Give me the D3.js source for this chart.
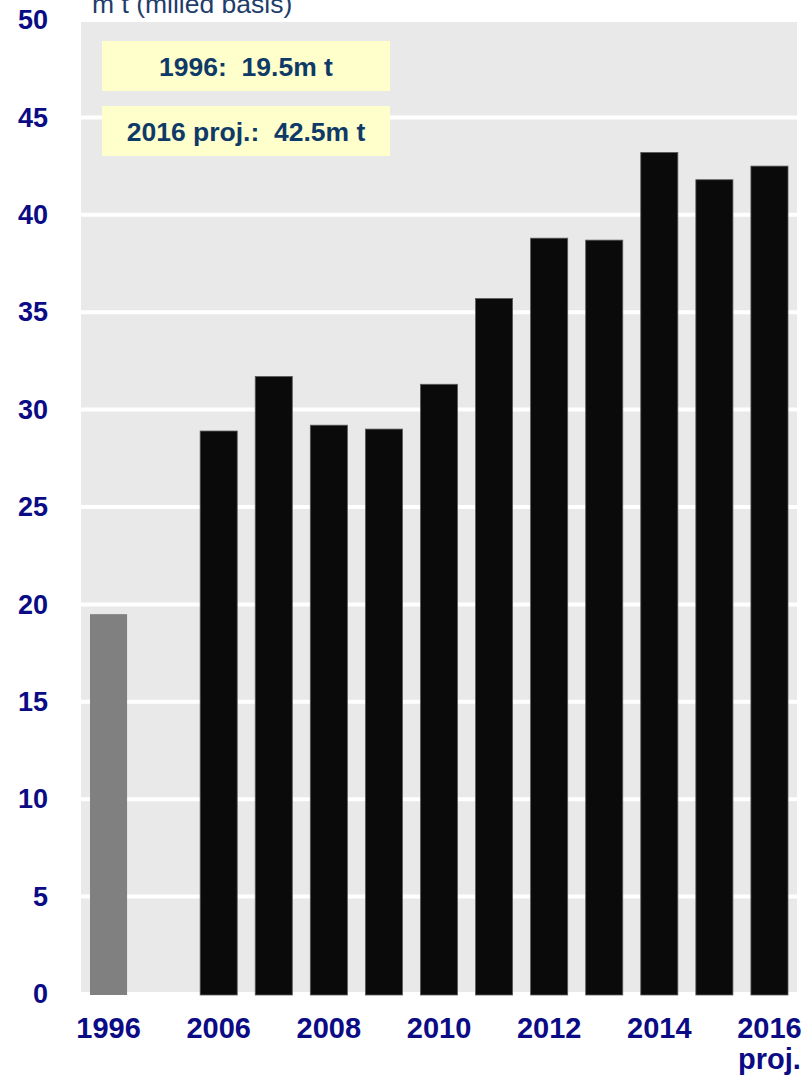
<!DOCTYPE html>
<html>
<head>
<meta charset="utf-8">
<script src="https://cdn.jsdelivr.net/npm/d3@7/dist/d3.min.js"></script>
<style>
  html, body { margin: 0; padding: 0; background: #ffffff; }
  svg { display: block; }
  text { font-family: "Liberation Sans", Arial, sans-serif; white-space: pre; }
</style>
</head>
<body>
<svg id="chart" width="804" height="1076"></svg>
<script>
// Production, million tonnes (milled basis)
const slots = ["1996", "gap", "2006", "2007", "2008", "2009", "2010", "2011", "2012", "2013", "2014", "2015", "2016"];
const years = ["1996", "2006", "2007", "2008", "2009", "2010", "2011", "2012", "2013", "2014", "2015", "2016"];
const values = [19.5, 28.9, 31.7, 29.2, 29.0, 31.3, 35.7, 38.8, 38.7, 43.2, 41.8, 42.5];
const xTickYears = ["1996", "2006", "2008", "2010", "2012", "2014", "2016"];
const yTicks = [0, 5, 10, 15, 20, 25, 30, 35, 40, 45, 50];
const unitLabel = "m t (milled basis)";
const notes = ["1996:  19.5m t", "2016 proj.:  42.5m t"];
const projYear = "2016";
const projSuffix = "proj.";

const svg = d3.select("#chart");
const plot = { left: 81, right: 797, top: 20, bottom: 994 };

const x = d3.scaleBand()
  .domain(slots)
  .range([plot.left, plot.right])
  .paddingInner(0.327)
  .paddingOuter(0.1635);

const y = d3.scaleLinear()
  .domain([0, 50])
  .range([plot.bottom, plot.top]);

// plot background
svg.append("rect")
  .attr("x", plot.left)
  .attr("y", y(50))
  .attr("width", plot.right - plot.left)
  .attr("height", y(0) - y(50))
  .attr("fill", "#e9e9e9");

// horizontal grid lines
svg.append("g")
  .selectAll("line")
  .data(yTicks)
  .join("line")
  .attr("x1", plot.left)
  .attr("x2", plot.right)
  .attr("y1", d => y(d))
  .attr("y2", d => y(d))
  .attr("stroke", "#ffffff")
  .attr("stroke-width", 4);

// bars
const rows = years.map((yr, i) => ({ year: yr, value: values[i] }));
svg.append("g")
  .selectAll("rect")
  .data(rows)
  .join("rect")
  .attr("x", d => x(d.year))
  .attr("y", d => y(d.value))
  .attr("width", x.bandwidth())
  .attr("height", d => y(0) - y(d.value) + 1)
  .attr("fill", d => d.year === "1996" ? "#808080" : "#0a0a0a")
  .attr("stroke", d => d.year === "1996" ? "none" : "#5a5a5a")
  .attr("stroke-width", 0.8);

// y axis
const yAxis = svg.append("g")
  .attr("transform", `translate(48,0)`)
  .call(d3.axisLeft(y).tickValues(yTicks).tickSize(0).tickPadding(0));
yAxis.select(".domain").remove();
yAxis.selectAll("text")
  .attr("fill", "#0b0b85")
  .attr("font-size", 27)
  .attr("font-weight", "bold")
  .attr("font-family", "'Liberation Sans', Arial, sans-serif");

// x axis
const xAxis = svg.append("g")
  .attr("transform", `translate(0,${plot.bottom})`)
  .call(d3.axisBottom(x).tickValues(xTickYears).tickSize(0).tickPadding(0));
xAxis.select(".domain").remove();
xAxis.selectAll("text")
  .attr("fill", "#0b0b85")
  .attr("font-size", 29)
  .attr("font-weight", "bold")
  .attr("font-family", "'Liberation Sans', Arial, sans-serif")
  .attr("dy", null)
  .attr("y", 44);
xAxis.selectAll(".tick")
  .filter(d => d === projYear)
  .append("text")
  .attr("fill", "#0b0b85")
  .attr("font-size", 29)
  .attr("font-weight", "bold")
  .attr("font-family", "'Liberation Sans', Arial, sans-serif")
  .attr("text-anchor", "middle")
  .attr("y", 75)
  .text(projSuffix);

// unit label
svg.append("text")
  .attr("x", 92)
  .attr("y", 13)
  .attr("fill", "#1f3d6b")
  .attr("font-size", 26.5)
  .text(unitLabel);

// note boxes
const boxes = svg.append("g")
  .selectAll("g")
  .data(notes)
  .join("g")
  .attr("transform", (d, i) => `translate(102,${41 + i * 65})`);
boxes.append("rect")
  .attr("width", 288)
  .attr("height", 50)
  .attr("fill", "#ffffcc");
boxes.append("text")
  .attr("x", 144)
  .attr("y", 35)
  .attr("text-anchor", "middle")
  .attr("fill", "#0f3a68")
  .attr("font-size", 26.5)
  .attr("font-weight", "bold")
  .text(d => d);
</script>
</body>
</html>
